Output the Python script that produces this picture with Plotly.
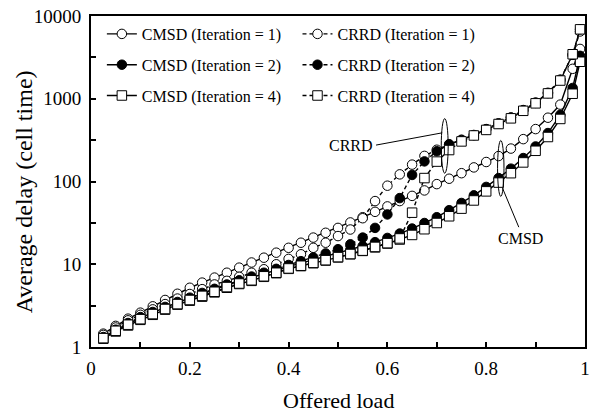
import plotly.graph_objects as go

# ---------------- data ----------------
load = [0.025, 0.05, 0.075, 0.1, 0.125, 0.15, 0.175, 0.2, 0.225, 0.25,
        0.275, 0.3, 0.325, 0.35, 0.375, 0.4, 0.425, 0.45, 0.475, 0.5,
        0.525, 0.55, 0.575, 0.6, 0.625, 0.65, 0.675, 0.7, 0.725, 0.75,
        0.775, 0.8, 0.825, 0.85, 0.875, 0.9, 0.925, 0.95, 0.975, 0.99]

cmsd_it1 = [1.45, 1.8, 2.2, 2.6, 3.1, 3.7, 4.4, 5.2, 6.0, 6.9,
            7.9, 9.1, 10.5, 12.0, 13.8, 15.8, 18.2, 21.0, 24.0, 27.5,
            32.0, 37.0, 43.0, 50.0, 58.0, 67.0, 78.0, 93.0, 108.0, 126.0,
            148.0, 172.0, 203.0, 250.0, 325.0, 430.0, 590.0, 850.0, 2300.0, 4000.0]

cmsd_it2 = [1.3, 1.6, 1.9, 2.25, 2.6, 3.0, 3.45, 3.9, 4.4, 4.95,
            5.6, 6.25, 6.9, 7.7, 8.5, 9.4, 10.3, 11.3, 12.4, 13.6,
            15.0, 16.6, 18.5, 20.8, 23.5, 27.0, 31.5, 37.0, 45.0, 55.0,
            68.0, 86.0, 110.0, 143.0, 192.0, 265.0, 385.0, 640.0, 1350.0, 3300.0]

cmsd_it4 = [1.26, 1.54, 1.82, 2.13, 2.45, 2.83, 3.25, 3.63, 4.06, 4.57,
            5.2, 5.77, 6.3, 7.05, 7.8, 8.8, 9.5, 10.3, 11.1, 12.1,
            13.2, 14.5, 16.0, 17.8, 19.9, 22.6, 26.5, 31.5, 38.0, 47.0,
            59.0, 76.0, 97.0, 126.0, 170.0, 235.0, 345.0, 570.0, 1150.0, 2800.0]

crrd_it1 = [1.4, 1.72, 2.1, 2.45, 2.85, 3.3, 3.85, 4.37, 5.0, 5.7,
            6.3, 7.05, 7.9, 8.7, 10.0, 11.6, 13.2, 15.8, 18.2, 21.9,
            26.3, 36.0, 58.0, 89.0, 122.0, 160.0, 204.0, 242.0, 282.0, 320.0,
            365.0, 430.0, 505.0, 595.0, 730.0, 900.0, 1180.0, 1700.0, 3400.0, 6500.0]

crrd_it2 = [1.32, 1.62, 1.95, 2.3, 2.65, 3.05, 3.5, 3.95, 4.5, 5.05,
            5.7, 6.4, 7.1, 7.9, 8.8, 9.8, 10.9, 12.1, 13.5, 15.2,
            17.4, 21.0, 27.5, 40.0, 63.0, 120.0, 175.0, 232.0, 280.0, 316.0,
            363.0, 428.0, 500.0, 590.0, 724.0, 891.0, 1170.0, 1690.0, 3400.0, 6900.0]

crrd_it4 = [1.28, 1.57, 1.86, 2.17, 2.5, 2.88, 3.3, 3.7, 4.15, 4.65,
            5.3, 5.85, 6.4, 7.15, 7.9, 8.9, 9.6, 10.4, 11.2, 12.2,
            13.3, 14.6, 16.2, 18.0, 20.5, 42.0, 110.0, 174.0, 240.0, 305.0,
            360.0, 420.0, 495.0, 580.0, 715.0, 880.0, 1160.0, 1660.0, 3450.0, 6900.0]

x_ticks = [0, 0.2, 0.4, 0.6, 0.8, 1]
x_ticktext = ["0", "0.2", "0.4", "0.6", "0.8", "1"]
x_minor = [0.1, 0.3, 0.5, 0.7, 0.9]
y_ticks = [1, 10, 100, 1000, 10000]
y_ticktext = ["1", "10", "100", "1000", "10000"]
y_minor = [10 ** 0.5, 10 ** 1.5, 10 ** 2.5, 10 ** 3.5]

names = ["CMSD (Iteration = 1)", "CMSD (Iteration = 2)", "CMSD (Iteration = 4)",
         "CRRD (Iteration = 1)", "CRRD (Iteration = 2)", "CRRD (Iteration = 4)"]

# ---------------- figure ----------------
FONT = "'Liberation Serif', 'Times New Roman', Times, 'DejaVu Serif', serif"
fig = go.Figure()

series = [
    (names[0], cmsd_it1, "solid", "circle", "white", "legend"),
    (names[1], cmsd_it2, "solid", "circle", "black", "legend"),
    (names[2], cmsd_it4, "solid", "square", "white", "legend"),
    (names[3], crrd_it1, "4px,3px", "circle", "white", "legend2"),
    (names[4], crrd_it2, "4px,3px", "circle", "black", "legend2"),
    (names[5], crrd_it4, "4px,3px", "square", "white", "legend2"),
]

for i, (nm, ys, dash, sym, fill, lg) in enumerate(series):
    fig.add_trace(go.Scatter(
        x=load, y=ys, name=nm, mode="lines+markers",
        line=dict(color="black", width=1.4, dash=dash),
        marker=dict(symbol=sym, size=9.5, color=fill,
                    line=dict(color="black", width=1)),
        legend=lg, legendgroup="g%d" % i,
    ))

axis_common = dict(
    showline=True, linecolor="black", linewidth=2, mirror=True,
    showgrid=False, zeroline=False, ticks="inside", ticklen=5, tickwidth=2,
    tickcolor="black",
    tickfont=dict(family=FONT, size=19, color="black"),
)

fig.update_xaxes(range=[0, 1], tickmode="array", tickvals=x_ticks,
                 ticktext=x_ticktext, ticklabelstandoff=3,
                 minor=dict(tickvals=x_minor, ticks="inside", ticklen=5,
                            tickwidth=2, tickcolor="black"),
                 **axis_common)
fig.update_yaxes(type="log", range=[0, 4], tickmode="array", tickvals=y_ticks,
                 ticktext=y_ticktext, ticklabelstandoff=4,
                 minor=dict(tickvals=y_minor, ticks="inside", ticklen=5,
                            tickwidth=2, tickcolor="black"),
                 **axis_common)

legend_common = dict(
    font=dict(family=FONT, size=16, color="black"),
    bgcolor="rgba(0,0,0,0)", borderwidth=0,
    orientation="v", tracegroupgap=7,
    xanchor="left", yanchor="top",
)

fig.update_layout(
    width=596, height=417,
    margin=dict(l=91, r=6, t=13, b=70),
    paper_bgcolor="white", plot_bgcolor="white",
    font=dict(family=FONT, size=16, color="black"),
    legend=dict(x=0.022, y=0.997, **legend_common),
    legend2=dict(x=0.418, y=0.997, **legend_common),
    showlegend=True,
)

# axis titles
fig.add_annotation(text="Offered load", xref="paper", yref="paper",
                   x=0.5, y=-0.162, showarrow=False,
                   font=dict(family=FONT, size=22, color="black"),
                   xanchor="center", yanchor="middle")
fig.add_annotation(text="Average delay (cell time)", xref="paper", yref="paper",
                   x=-0.134, y=0.47, showarrow=False, textangle=-90,
                   font=dict(family=FONT, size=24, color="black"),
                   xanchor="center", yanchor="middle")

# callouts
fig.add_annotation(text="CRRD", xref="paper", yref="paper", x=0.575, y=0.608,
                   showarrow=False, xanchor="right", yanchor="middle",
                   font=dict(family=FONT, size=16, color="black"))
fig.add_annotation(text="CMSD", xref="paper", yref="paper", x=0.870, y=0.329,
                   showarrow=False, xanchor="center", yanchor="middle",
                   font=dict(family=FONT, size=16, color="black"))

fig.add_shape(type="line", xref="paper", yref="paper",
              x0=0.577, y0=0.610, x1=0.711, y1=0.647,
              line=dict(color="black", width=1))
fig.add_shape(type="line", xref="paper", yref="paper",
              x0=0.833, y0=0.480, x1=0.866, y1=0.362,
              line=dict(color="black", width=1))
fig.add_shape(type="circle", xref="paper", yref="paper",
              x0=0.709, x1=0.723, y0=0.525, y1=0.690,
              line=dict(color="black", width=1))
fig.add_shape(type="circle", xref="paper", yref="paper",
              x0=0.823, x1=0.836, y0=0.455, y1=0.624,
              line=dict(color="black", width=1))

fig.write_html("out.html")
